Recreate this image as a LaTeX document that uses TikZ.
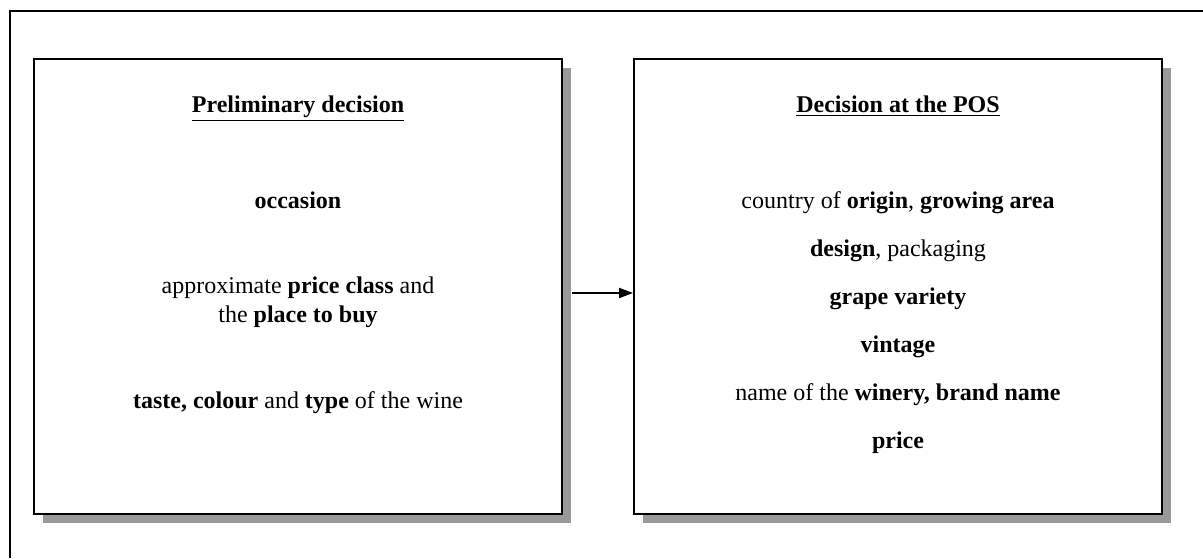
\documentclass[tikz,border=0pt]{standalone}
\usepackage{fontspec}
\setmainfont{Liberation Serif}
\usetikzlibrary{arrows.meta,positioning,shadows}

\begin{document}
\begin{tikzpicture}[x=0.5pt,y=-0.5pt,
    box/.style={draw,line width=1pt,fill=white,minimum width=264pt,minimum height=227.5pt,inner sep=0pt,
        drop shadow={shadow xshift=4.5pt,shadow yshift=-4.5pt,fill=black!40,opacity=1}},
    txt/.style={anchor=base,font=\fontsize{12}{14.5}\selectfont,align=center,inner sep=0pt}]
    \useasboundingbox (0,0) rectangle (1203,558);
    \draw[line width=1pt] (10,558) -- (10,11) -- (1203,11);
    \node[box] (lbox) at (298,286.5) {};
    \node[box] (rbox) at (898,286.5) {};
    \draw[line width=1pt,-{Triangle[length=7pt,width=5pt]}] ([xshift=4.5pt,yshift=-3.25pt]lbox.east) -- ([yshift=-3.25pt]rbox.west);
    \node[txt] (ltitle) at (298,112) {\textbf{\underline{Preliminary decision}}};
    \node[txt] (occasion) at (298,208) {\textbf{occasion}};
    \node[txt] (priceclass) at (298,322) {approximate \textbf{price class} and\\the \textbf{place to buy}};
    \node[txt] (taste) at (298,408) {\textbf{taste, colour} and \textbf{type} of the wine};
    \node[txt] (rtitle) at (898,112) {\textbf{\underline{Decision at the POS}}};
    \node[txt] (origin) at (898,208) {country of \textbf{origin}, \textbf{growing area}};
    \node[txt] (design) at (898,256) {\textbf{design}, packaging};
    \node[txt] (grape) at (898,304) {\textbf{grape variety}};
    \node[txt] (vintage) at (898,352) {\textbf{vintage}};
    \node[txt] (winery) at (898,400) {name of the \textbf{winery, brand name}};
    \node[txt] (price) at (898,448) {\textbf{price}};
\end{tikzpicture}
\end{document}
